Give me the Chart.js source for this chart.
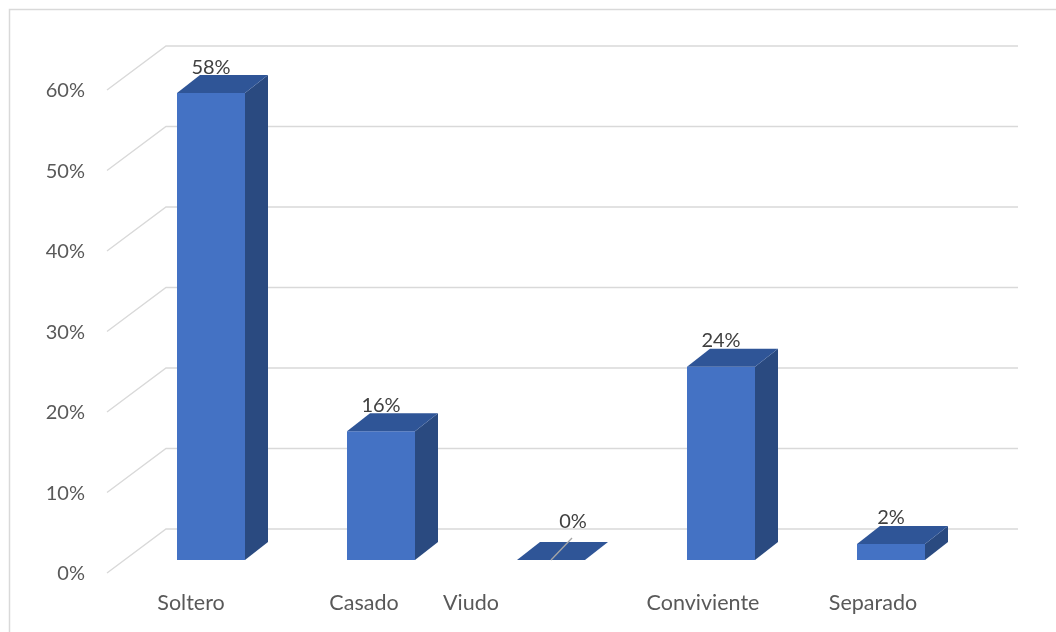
<!DOCTYPE html>
<html>
<head>
<meta charset="utf-8">
<script src="https://cdn.jsdelivr.net/npm/chart.js@4"></script>
<style>
  html, body { margin:0; padding:0; background:#fff; }
  canvas { display:block; }
</style>
</head>
<body>
<canvas id="grafico" width="1056" height="632"></canvas>
<script>
// ─── DATOS ───────────────────────────────────────────────────────────────────
const categorias = ["Soltero", "Casado", "Viudo", "Conviviente", "Separado"];
const porcentajes = [58, 16, 0, 24, 2];
const ticksY = [0, 10, 20, 30, 40, 50, 60];

// ─── ESTILO ──────────────────────────────────────────────────────────────────
const FUENTE = "Lato, 'Open Sans', sans-serif";
const COLOR_FRENTE = "#4472C4";
const COLOR_TAPA = "#2F5597";
const COLOR_LADO = "#2A4A80";
const COLOR_GRILLA = "#d9d9d9";
const PROF = { dx: 23, dy: -18 };       // profundidad de cada barra
const PARED = { x0: 107, x1: 166, x2: 1018, dy: -31, dyFrente: 13 };
const desplazEtiqueta = [-20, -17, -80, -18, -18];

const pared3D = {
  id: "pared3D",
  beforeDatasetsDraw(chart){
    const { ctx, scales: { y } } = chart;
    ctx.save();
    ctx.strokeStyle = COLOR_GRILLA;
    ctx.lineWidth = 1.4;
    ticksY.forEach(v => {
      const py = y.getPixelForValue(v);
      ctx.beginPath();
      ctx.moveTo(PARED.x0, py + PARED.dyFrente);
      ctx.lineTo(PARED.x1, py + PARED.dy);
      ctx.lineTo(PARED.x2, py + PARED.dy);
      ctx.stroke();
    });
    // marco exterior
    ctx.lineWidth = 1.5;
    ctx.beginPath();
    ctx.moveTo(9.5, 632);
    ctx.lineTo(9.5, 9.5);
    ctx.lineTo(1056, 9.5);
    ctx.stroke();
    ctx.restore();
  },
  afterDatasetsDraw(chart){
    const { ctx } = chart;
    const meta = chart.getDatasetMeta(0);
    ctx.save();
    meta.data.forEach((bar, i) => {
      const w = bar.width, l = bar.x - w / 2, r = bar.x + w / 2;
      const top = bar.y, base = bar.base;
      // cara lateral
      if(base - top > 0.5){
        ctx.fillStyle = COLOR_LADO;
        ctx.beginPath();
        ctx.moveTo(r, base);
        ctx.lineTo(r + PROF.dx, base + PROF.dy);
        ctx.lineTo(r + PROF.dx, top + PROF.dy);
        ctx.lineTo(r, top);
        ctx.closePath();
        ctx.fill();
      }
      // tapa superior
      ctx.fillStyle = COLOR_TAPA;
      ctx.beginPath();
      ctx.moveTo(l, top);
      ctx.lineTo(r, top);
      ctx.lineTo(r + PROF.dx, top + PROF.dy);
      ctx.lineTo(l + PROF.dx, top + PROF.dy);
      ctx.closePath();
      ctx.fill();

      // etiqueta de valor
      const val = porcentajes[i];
      let lx = bar.x, ly = top - 26;
      if(val === 0){
        lx = bar.x + 22; ly = top - 38;
        ctx.strokeStyle = "#a6a6a6";
        ctx.lineWidth = 1.3;
        ctx.beginPath();
        ctx.moveTo(bar.x, top);
        ctx.lineTo(bar.x + 21, top - 22);
        ctx.stroke();
      }
      ctx.fillStyle = "#404040";
      ctx.font = `20px ${FUENTE}`;
      ctx.textAlign = "center";
      ctx.textBaseline = "middle";
      ctx.fillText(val + "%", lx, ly);
    });

    // etiquetas de categoría
    const x = chart.scales.x;
    ctx.fillStyle = "#595959";
    ctx.font = `21.5px ${FUENTE}`;
    ctx.textAlign = "center";
    ctx.textBaseline = "middle";
    chart.data.labels.forEach((lab, i) => {
      ctx.fillText(lab, x.getPixelForValue(i) + desplazEtiqueta[i], 603);
    });
    ctx.restore();
  }
};

new Chart(document.getElementById("grafico"), {
  type: "bar",
  data: {
    labels: categorias,
    datasets: [{
      data: porcentajes,
      backgroundColor: COLOR_FRENTE,
      borderWidth: 0,
      barPercentage: 0.4,
      categoryPercentage: 1
    }]
  },
  options: {
    responsive: false,
    animation: false,
    layout: { padding: { left: 0, right: 80, top: 77, bottom: 72 } },
    plugins: { legend: { display: false }, tooltip: { enabled: false } },
    scales: {
      x: { display: false },
      y: {
        min: 0, max: 60,
        afterFit(scale){ scale.width = 126; },
        afterBuildTicks(scale){ scale.ticks = ticksY.map(v => ({ value: v })); },
        grid: { display: false, drawTicks: false },
        border: { display: false },
        ticks: {
          padding: 41,
          labelOffset: 14,
          color: "#595959",
          font: { family: FUENTE, size: 20 },
          callback: v => v + "%"
        }
      }
    }
  },
  plugins: [pared3D]
});
</script>
</body>
</html>
